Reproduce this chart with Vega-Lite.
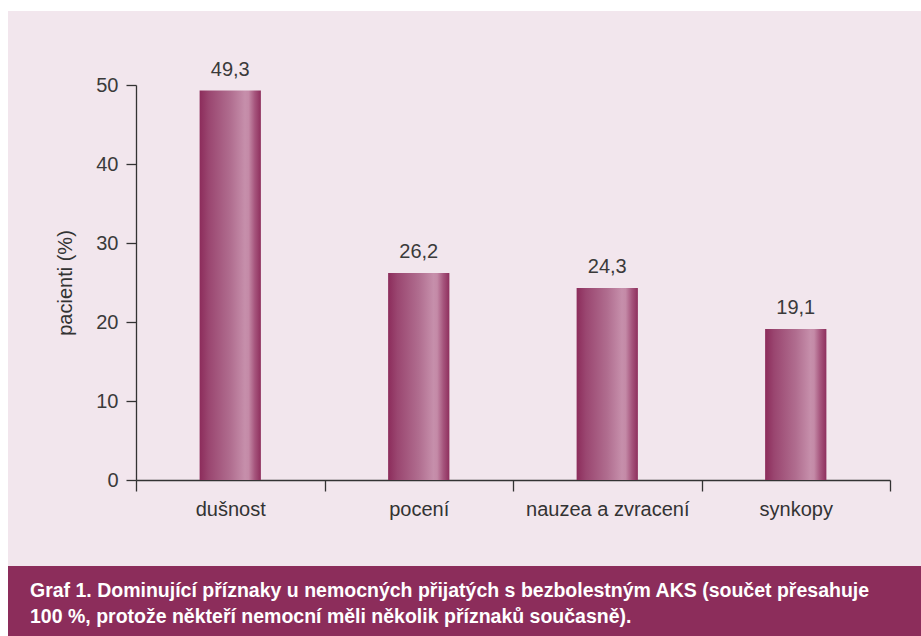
{
  "$schema": "https://vega.github.io/schema/vega-lite/v6.json",
  "background": "white",
  "padding": {"left": 8, "top": 11, "right": 0, "bottom": 0},
  "spacing": 0,
  "config": {
    "view": {"stroke": null},
    "locale": {"number": {"decimal": ",", "thousands": " ", "grouping": [3], "currency": ["", " Kč"]}},
    "font": "Liberation Sans"
  },
  "vconcat": [
    {
      "width": 913,
      "height": 555,
      "view": {"fill": "#f2e6ed", "stroke": null},
      "data": {"values": [
        {"symptom": "dušnost", "pct": 49.3},
        {"symptom": "pocení", "pct": 26.2},
        {"symptom": "nauzea a zvracení", "pct": 24.3},
        {"symptom": "synkopy", "pct": 19.1}
      ]},
      "encoding": {
        "x": {
          "field": "symptom", "type": "nominal", "sort": null,
          "scale": {"range": [128, 882], "paddingInner": 0, "paddingOuter": 0},
          "axis": {
            "title": null, "labelAngle": 0, "tickBand": "extent", "tickSize": 11,
            "labelPadding": 8, "offset": -86, "labelFontSize": 20, "labelFont": "Liberation Sans",
            "domainColor": "#333333", "tickColor": "#333333", "labelColor": "#333333",
            "domainWidth": 1.3, "tickWidth": 1.3
          }
        },
        "y": {
          "field": "pct", "type": "quantitative",
          "scale": {"domain": [0, 50], "range": [469, 74], "nice": false},
          "axis": {
            "title": "pacienti (%)", "values": [0, 10, 20, 30, 40, 50], "grid": false,
            "tickSize": 10, "labelPadding": 8, "offset": -128,
            "labelFontSize": 20, "labelFont": "Liberation Sans", "labelColor": "#3a3a3a",
            "titleFontSize": 20, "titleFont": "Liberation Sans", "titleFontWeight": "normal", "titleColor": "#333333",
            "titlePadding": 20,
            "domainColor": "#333333", "tickColor": "#333333", "domainWidth": 1.3, "tickWidth": 1.3
          }
        }
      },
      "layer": [
        {
          "mark": {
            "type": "bar",
            "width": {"band": 0.325},
            "color": {
              "gradient": "linear", "x1": 0, "y1": 0, "x2": 1, "y2": 0,
              "stops": [
                {"offset": 0, "color": "#8c2c5b"},
                {"offset": 0.15, "color": "#9a4670"},
                {"offset": 0.5, "color": "#b06d8f"},
                {"offset": 0.74, "color": "#c68fab"},
                {"offset": 0.8, "color": "#c48aa7"},
                {"offset": 0.9, "color": "#a6557d"},
                {"offset": 1, "color": "#8e2f5d"}
              ]
            }
          }
        },
        {
          "mark": {"type": "text", "baseline": "alphabetic", "dy": -15, "fontSize": 20, "color": "#3a3a3a", "font": "Liberation Sans"},
          "encoding": {"text": {"field": "pct", "type": "quantitative", "format": ".1f"}}
        }
      ]
    },
    {
      "width": 913,
      "height": 70,
      "view": {"fill": "#8c2d5b", "stroke": null},
      "data": {"values": [
        {"caption": "Graf 1. Dominující příznaky u nemocných přijatých s bezbolestným AKS (součet přesahuje\n100 %, protože někteří nemocní měli několik příznaků současně)."}
      ]},
      "mark": {
        "type": "text", "align": "left", "baseline": "alphabetic", "lineBreak": "\n", "lineHeight": 26,
        "dx": 22, "dy": 31, "fontSize": 19.5, "fontWeight": "bold", "color": "white", "font": "Liberation Sans"
      },
      "encoding": {
        "x": {"datum": 0, "type": "quantitative", "scale": {"domain": [0, 1], "nice": false}, "axis": null},
        "y": {"datum": 1, "type": "quantitative", "scale": {"domain": [0, 1], "nice": false}, "axis": null},
        "text": {"field": "caption", "type": "nominal"}
      }
    }
  ]
}
